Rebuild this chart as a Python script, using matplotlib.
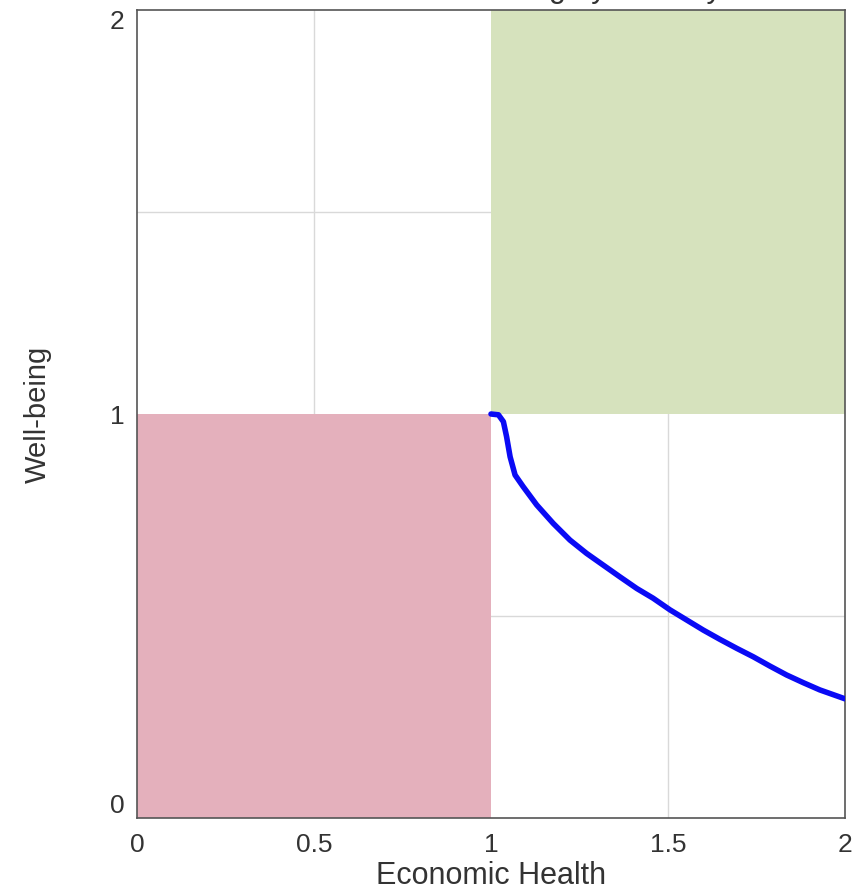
import matplotlib
matplotlib.use("Agg")
import matplotlib.pyplot as plt

plt.rcParams["font.family"] = ["Liberation Sans", "DejaVu Sans"]

# curve (economic health, well-being)
curve_x = [1.0, 1.021, 1.035, 1.044, 1.054, 1.068, 1.091, 1.129, 1.176, 1.223, 1.270,
           1.317, 1.364, 1.412, 1.458, 1.506, 1.553, 1.600, 1.647, 1.694, 1.741,
           1.788, 1.835, 1.882, 1.929, 2.0]
curve_y = [1.0, 0.998, 0.981, 0.944, 0.894, 0.849, 0.820, 0.775, 0.729, 0.688, 0.655,
           0.626, 0.597, 0.568, 0.544, 0.515, 0.490, 0.465, 0.442, 0.420, 0.399,
           0.376, 0.354, 0.335, 0.317, 0.295]

# shaded quadrants: (x0, x1, y0, y1, colour)
zones = [(0, 1, 0, 1, "#e4b0bc"), (1, 2, 1, 2, "#d6e2bd")]

xticks = [0, 0.5, 1, 1.5, 2]
xticklabels = ["0", "0.5", "1", "1.5", "2"]
yticks = [0, 1, 2]
yticklabels = ["0", "1", "2"]

fig = plt.figure(figsize=(8.59, 8.94), dpi=100)
ax = fig.add_axes([137 / 859, 76 / 894, 708 / 859, 808 / 894])

for x0, x1, y0, y1, c in zones:
    ax.axvspan(x0, x1, ymin=y0 / 2, ymax=y1 / 2, color=c, lw=0, zorder=1)

for g in [0.5, 1.5]:
    ax.axvline(g, color="#d9d9d9", lw=1, zorder=0.5)
    ax.axhline(g, color="#d9d9d9", lw=1, zorder=0.5)

ax.plot(curve_x, curve_y, color="#0a0af5", lw=4, solid_capstyle="round",
        solid_joinstyle="round", zorder=3)

ax.set_xlim(0, 2)
ax.set_ylim(0, 2)
ax.set_xticks(xticks, xticklabels)
ax.set_yticks(yticks, yticklabels)
ax.tick_params(length=0, labelsize=19, colors="#333333")
ax.tick_params(axis="x", pad=11)
ax.tick_params(axis="y", pad=9)
# end labels sit inside the axis span, like the reference
yl = ax.get_yticklabels()
yl[0].set_va("bottom")
yl[-1].set_va("top")
ax.set_xlabel("Economic Health", fontsize=22, color="#333333", labelpad=3)
ax.set_ylabel("Well-being", fontsize=21, color="#333333", labelpad=42)
for s in ax.spines.values():
    s.set_color("#555555")
    s.set_linewidth(1.2)

# title is cropped off the top edge in the reference: only descenders peek in
fig.text(0.5, 1 + 3 / 894, "Economic Health vs. Well-being by Country", ha="center",
         va="baseline", fontsize=22, color="#333333")

fig.savefig("out.png", dpi=100)
